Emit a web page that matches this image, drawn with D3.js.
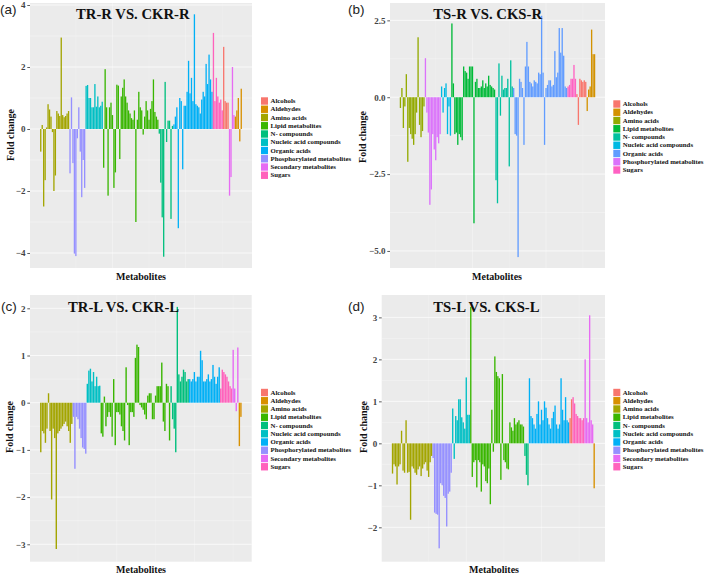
<!DOCTYPE html>
<html><head><meta charset="utf-8">
<script src="https://cdn.jsdelivr.net/npm/d3@7"></script>
<style>body{margin:0;background:#fff;} svg{display:block;}</style>
</head><body><svg id="chart" width="709" height="574"></svg>
<script>
// ---------- legends & colours ----------
const legend10 = ["Alcohols","Aldehydes","Amino acids","Lipid metabolites","N- compounds","Nucleic acid compounds","Organic acids","Phosphorylated metabolites","Secondary metabolites","Sugars"];
const hue10 = ["#F8766D","#D89000","#A3A500","#39B600","#00BF7D","#00BFC4","#00B0F6","#9590FF","#E76BF3","#FF62BC"];
const legend9 = ["Alcohols","Aldehydes","Amino acids","Lipid metabolites","N- compounds","Nucleic acid compounds","Organic acids","Phosphorylated metabolites","Sugars"];
const hue9 = ["#F8766D","#D39200","#93AA00","#00BA38","#00C19F","#00B9E3","#619CFF","#DB72FB","#FF61C3"];

// ---------- panel (a) TR-R VS. CKR-R ----------
const aOrder = ["Amino acids","Phosphorylated metabolites","Nucleic acid compounds","Lipid metabolites","N- compounds","Organic acids","Sugars","Alcohols","Secondary metabolites","Aldehydes"];
const aValues = [
  [-0.73,0.13,-2.5,-1.65,0.05,0.8,0.63,0.4,-0.1,-2.0,-1.5,0.58,0.5,0.42,2.95,0.45,0.38,0.42,0.5,0.58],
  [-1.43,1.02,-1.1,-4.02,-4.1,-0.3,0.7,-0.73,-2.2,-1.0,-1.9],
  [1.39,1.42,1.0,1.0,0.7,0.7,1.45,0.72,1.05,0.7,0.75,0.88],
  [-1.25,1.93,0.7,-2.15,0.7,0.85,0.45,-1.9,-1.4,1.43,1.4,-0.97,1.05,1.33,1.6,1.05,0.85,0.6,0.5,0.35,0.3,0.6,-3.0,0.3,1.2,0.7,0.6,-0.18,0.4,0.9,0.6,0.3,0.65,0.9,1.6,0.55,0.4,0.3],
  [-0.15,-1.73,-2.85,-4.12,1.52,-0.42,0.27,0.27,-2.9,0.1],
  [0.15,0.4,0.7,-3.2,1.0,0.9,-1.3,0.75,0.75,1.2,2.2,1.15,1.65,0.9,3.7,0.8,0.75,0.7,0.5,0.95,1.2,1.05,2.1,1.45,2.4,1.6,1.2],
  [3.1,0.9,1.65,1.05,0.85,0.95,0.6],
  [2.65,0.9,0.85,0.85],
  [-2.15,-1.55,2.0,0.45],
  [0.4,0.6,1.0,-0.4,1.3]
];
const aTicks = [-4,-2,0,2,4];
const aMinor = [-3,-1,1,3];

// ---------- panel (b) TS-R VS. CKS-R ----------
const bOrder = ["Amino acids","Phosphorylated metabolites","Nucleic acid compounds","Lipid metabolites","N- compounds","Organic acids","Sugars","Alcohols","Aldehydes"];
const bValues = [
  [-0.35,0.3,-1.0,-0.3,0.75,-2.1,-1.0,-1.2,-1.35,-1.55,-1.2,-0.5,1.95,-0.9,-1.3,-1.1,-0.3],
  [1.27,-0.5,-1.15,-3.5,-3.0,-1.2,-1.7,-2.05,-1.3,-1.5,-1.2],
  [0.35,-0.5,0.3,0.45,-1.2,-0.3,-1.25],
  [2.4,0.45,-1.2,-1.15,-1.55,-1.2,-1.3,-1.4,1.0,0.85,0.8,0.6,1.0,1.0,1.0,-4.1,0.5,0.6,0.3,0.3,0.35,0.55,0.3,0.45,0.35,0.7,0.4,0.35,0.3,0.25],
  [-2.7,-3.45,1.1,-0.6,0.7,0.25,0.3,0.3,0.6,-2.25,1.2,0.35],
  [0.3,-1.2,-1.25,-5.2,0.6,0.5,0.3,-1.55,1.0,1.8,1.0,0.5,0.45,0.35,0.55,0.5,0.45,0.8,0.75,2.65,0.8,-1.55,0.3,0.4,0.55,0.55,0.35,0.4,1.5,0.65,0.8,2.25,1.45,2.25,1.35,0.35,0.3],
  [0.35,0.4,0.6,0.6,1.05,0.6],
  [0.1,-0.9,0.6,0.55,0.5,0.55,0.5],
  [-0.45,0.25,0.35,2.2,1.4,1.4]
];
const bTicks = [-5,-2.5,0,2.5];
const bMinor = [-3.75,-1.25,1.25];

// ---------- panel (c) TR-L VS. CKR-L ----------
const cOrder = ["Amino acids","Phosphorylated metabolites","Nucleic acid compounds","Lipid metabolites","N- compounds","Organic acids","Sugars","Secondary metabolites","Aldehydes"];
const cValues = [
  [-1.05,-0.6,-0.65,-0.85,-0.55,0.2,-0.6,-2.05,-0.55,-0.75,-3.1,-0.65,-0.6,-0.55,-0.5,-0.45,-0.4,-0.5,-0.6,-0.85,-0.45],
  [-0.3,-1.4,-0.3,-0.35,-0.55,-0.75,-0.95,-0.98,-1.08],
  [0.4,0.68,0.72,0.45,0.65,0.35,0.55,0.35,0.36],
  [-0.65,-0.72,0.13,-0.5,-0.3,-0.2,-0.3,-0.72,0.5,-0.9,-0.2,-0.2,-0.25,-0.5,-0.6,-0.8,0.75,-0.05,-0.9,-0.2,-0.2,-0.3,0.95,1.23,1.18,-0.05,-0.1,-0.15,-0.25,-0.35,0.15,0.2,0.2,-0.35,-0.35,0.15,0.35,0.35,0.35,0.85,-0.4,-0.6,0.4,0.35,-0.8],
  [0.35,-0.35,-0.55,-1.05,2.03,0.6,0.45,0.55,0.7,0.65,0.45,0.5],
  [0.5,0.45,0.5,0.65,0.45,0.55,0.55,1.1,0.9,0.45,0.45,0.5,0.6,0.45,0.5,0.8,0.55,0.4,0.55,0.75],
  [0.3,0.7,0.65,0.6,0.55,0.45,0.35,0.3],
  [1.12,0.3,-0.18,1.17],
  [-0.92,-0.3]
];
const cTicks = [-3,-2,-1,0,1,2];
const cMinor = [-2.5,-1.5,-0.5,0.5,1.5];

// ---------- panel (d) TS-L VS. CKS-L ----------
const dOrder = ["Amino acids","Phosphorylated metabolites","Nucleic acid compounds","Lipid metabolites","N- compounds","Organic acids","Alcohols","Sugars","Secondary metabolites","Aldehydes"];
const dValues = [
  [-0.72,-0.5,-0.55,-0.98,-0.55,-0.5,0.3,-0.65,-0.7,0.55,-0.7,-0.68,-1.82,-0.55,-0.6,-0.7,-0.75,-0.62,-0.55,-0.78,-0.6,-0.5,-0.45,-0.65,-0.8,-0.45,-0.3],
  [-0.35,-1.65,-1.68,-1.7,-2.5,-0.95,-1.0,-1.25,-1.3,-1.98,-1.2,-1.15,-0.7],
  [0.83,-0.37,0.65,0.55,1.05,1.05,0.62,0.5,0.35,1.57,0.68,0.68],
  [3.25,-0.8,-0.45,-0.4,-1.05,-0.4,-0.45,-1.15,-0.5,-0.55,-0.9,-0.95,-0.6,-1.45,0.8,-0.2,2.07,1.7,1.6,1.55,-0.87,1.65,-0.4,-0.45,-0.6,-0.62,0.5,0.38,0.3,0.6,0.45,0.5,0.55,0.45,0.45,0.4],
  [-0.3,-0.75,-1.0],
  [1.55,0.65,0.6,0.45,0.35,0.7,1.0,0.45,0.8,0.55,1.0,0.85,0.6,0.45,0.35,0.6,0.75,0.9,0.45,0.35,0.45,1.55,0.8,0.55,1.1,0.55,0.5],
  [0.6,1.05],
  [1.1,0.95,0.7,0.65,0.6,0.6,0.55,0.6],
  [2.0,0.6,0.5,3.05,0.55,0.45],
  [-1.07]
];
const dTicks = [-2,-1,0,1,2,3];
const dMinor = [-1.5,-0.5,0.5,1.5,2.5];

// ---------- drawing ----------
const svg = d3.select("#chart");
svg.append("rect").attr("width",709).attr("height",574).attr("fill","#fff");
const serif = "'Liberation Serif','Times New Roman',serif";

function panel(cfg) {
  const g = svg.append("g");
  const color = d3.scaleOrdinal().domain(cfg.legend).range(cfg.hues);
  const bars = cfg.order.flatMap((cat, gi) => cfg.values[gi].map(v => ({cat, v})));
  bars.forEach((b, i) => b.i = i + 1);
  const N = bars.length;
  const span = N - 0.1;
  const xs = d3.scaleLinear().domain([0.55 - 0.05*span, N + 0.45 + 0.05*span]).range([cfg.x0, cfg.x1]);
  const ys = d3.scaleLinear().domain(cfg.yDom).range([cfg.y1, cfg.y0]);

  g.append("rect").attr("x", cfg.x0).attr("y", cfg.y0)
    .attr("width", cfg.x1 - cfg.x0).attr("height", cfg.y1 - cfg.y0).attr("fill", "#EBEBEB");
  // grid
  g.selectAll(".hmin").data(cfg.minor).join("line")
    .attr("x1", cfg.x0).attr("x2", cfg.x1).attr("y1", d => ys(d)).attr("y2", d => ys(d))
    .attr("stroke", "#fff").attr("stroke-width", 0.5).attr("stroke-opacity", 0.6);
  g.selectAll(".hmaj").data(cfg.ticks).join("line")
    .attr("x1", cfg.x0).attr("x2", cfg.x1).attr("y1", d => ys(d)).attr("y2", d => ys(d))
    .attr("stroke", "#fff").attr("stroke-width", 1).attr("stroke-opacity", 0.7);
  const vmin = [25, 75, 125, 175].filter(d => xs(d) > cfg.x0 && xs(d) < cfg.x1);
  const vmaj = [50, 100, 150].filter(d => xs(d) > cfg.x0 && xs(d) < cfg.x1);
  g.selectAll(".vmin").data(vmin).join("line")
    .attr("y1", cfg.y0).attr("y2", cfg.y1).attr("x1", d => xs(d)).attr("x2", d => xs(d))
    .attr("stroke", "#fff").attr("stroke-width", 0.5).attr("stroke-opacity", 0.35);
  g.selectAll(".vmaj").data(vmaj).join("line")
    .attr("y1", cfg.y0).attr("y2", cfg.y1).attr("x1", d => xs(d)).attr("x2", d => xs(d))
    .attr("stroke", "#fff").attr("stroke-width", 0.8).attr("stroke-opacity", 0.4);

  // bars
  g.selectAll(".bar").data(bars).join("rect")
    .attr("x", d => xs(d.i - 0.45))
    .attr("width", d => xs(d.i + 0.45) - xs(d.i - 0.45))
    .attr("y", d => ys(Math.max(0, d.v)))
    .attr("height", d => Math.abs(ys(d.v) - ys(0)))
    .attr("fill", d => color(d.cat));

  // y axis
  const ax = g.append("g").attr("transform", `translate(${cfg.x0},0)`)
    .call(d3.axisLeft(ys).tickValues(cfg.ticks).tickSize(2.7).tickPadding(1.8).tickFormat(cfg.fmt));
  ax.select(".domain").remove();
  ax.selectAll(".tick line").attr("stroke", "#333").attr("stroke-width", 0.8);
  ax.selectAll(".tick text").attr("font-family", serif).attr("font-weight", "bold")
    .attr("font-size", 9).attr("fill", "#444");

  // title and labels
  g.append("text").attr("x", cfg.titleX).attr("y", cfg.titleY).text(cfg.title)
    .attr("font-family", serif).attr("font-weight", "bold").attr("font-size", 14.7).attr("fill", "#111");
  g.append("text").attr("x", cfg.tagX).attr("y", cfg.tagY).text(cfg.tag)
    .attr("font-family", "'Liberation Sans',Arial,sans-serif").attr("font-size", 13.5).attr("fill", "#222");
  g.append("text").attr("transform", `translate(${cfg.ylabX},${cfg.ylabY}) rotate(-90)`)
    .attr("text-anchor", "middle").text("Fold change")
    .attr("font-family", serif).attr("font-weight", "bold").attr("font-size", 10).attr("fill", "#111");
  g.append("text").attr("x", cfg.xlabX).attr("y", cfg.xlabY).attr("text-anchor", "middle").text("Metabolites")
    .attr("font-family", serif).attr("font-weight", "bold").attr("font-size", 10).attr("fill", "#111");

  // legend
  const step = 8.25;
  const lg = g.append("g");
  cfg.legend.forEach((name, k) => {
    const cy = cfg.legY + k * step;
    lg.append("rect").attr("x", cfg.legX).attr("y", cy - 3.7).attr("width", 7).attr("height", 7.4)
      .attr("fill", color(name));
    lg.append("text").attr("x", cfg.legX + 9.5).attr("y", cy).attr("dy", "0.33em").text(name)
      .attr("font-family", serif).attr("font-weight", "bold").attr("font-size", 6.8).attr("fill", "#111");
  });
}

panel({x0:30, x1:252, y0:3, y1:268, yDom:[-4.484, 4.065], ticks:aTicks, minor:aMinor, fmt:d3.format("d"),
  order:aOrder, values:aValues, legend:legend10, hues:hue10,
  title:"TR-R VS. CKR-R", titleX:76, titleY:19, tag:"(a)", tagX:0, tagY:14,
  ylabX:13.5, ylabY:135, xlabX:141, xlabY:280, legX:261, legY:101});
panel({x0:390, x1:605, y0:3, y1:268, yDom:[-5.555, 3.065], ticks:bTicks, minor:bMinor, fmt:d3.format(".1f"),
  order:bOrder, values:bValues, legend:legend9, hues:hue9,
  title:"TS-R VS. CKS-R", titleX:433.3, titleY:19, tag:"(b)", tagX:348, tagY:14,
  ylabX:365.5, ylabY:137, xlabX:497, xlabY:280, legX:613.3, legY:104});
panel({x0:30, x1:251.7, y0:295, y1:561.7, yDom:[-3.369, 2.282], ticks:cTicks, minor:cMinor, fmt:d3.format("d"),
  order:cOrder, values:cValues, legend:legend10, hues:hue10,
  title:"TR-L VS. CKR-L", titleX:68, titleY:312, tag:"(c)", tagX:1, tagY:311,
  ylabX:12.5, ylabY:427, xlabX:141, xlabY:573, legX:261, legY:392.5});
panel({x0:381.7, x1:605, y0:295, y1:561.7, yDom:[-2.819, 3.533], ticks:dTicks, minor:dMinor, fmt:d3.format("d"),
  order:dOrder, values:dValues, legend:legend10, hues:hue10,
  title:"TS-L VS. CKS-L", titleX:433.3, titleY:312, tag:"(d)", tagX:348, tagY:311,
  ylabX:367, ylabY:427, xlabX:494, xlabY:573, legX:613.3, legY:392.5});
</script>
</body></html>
